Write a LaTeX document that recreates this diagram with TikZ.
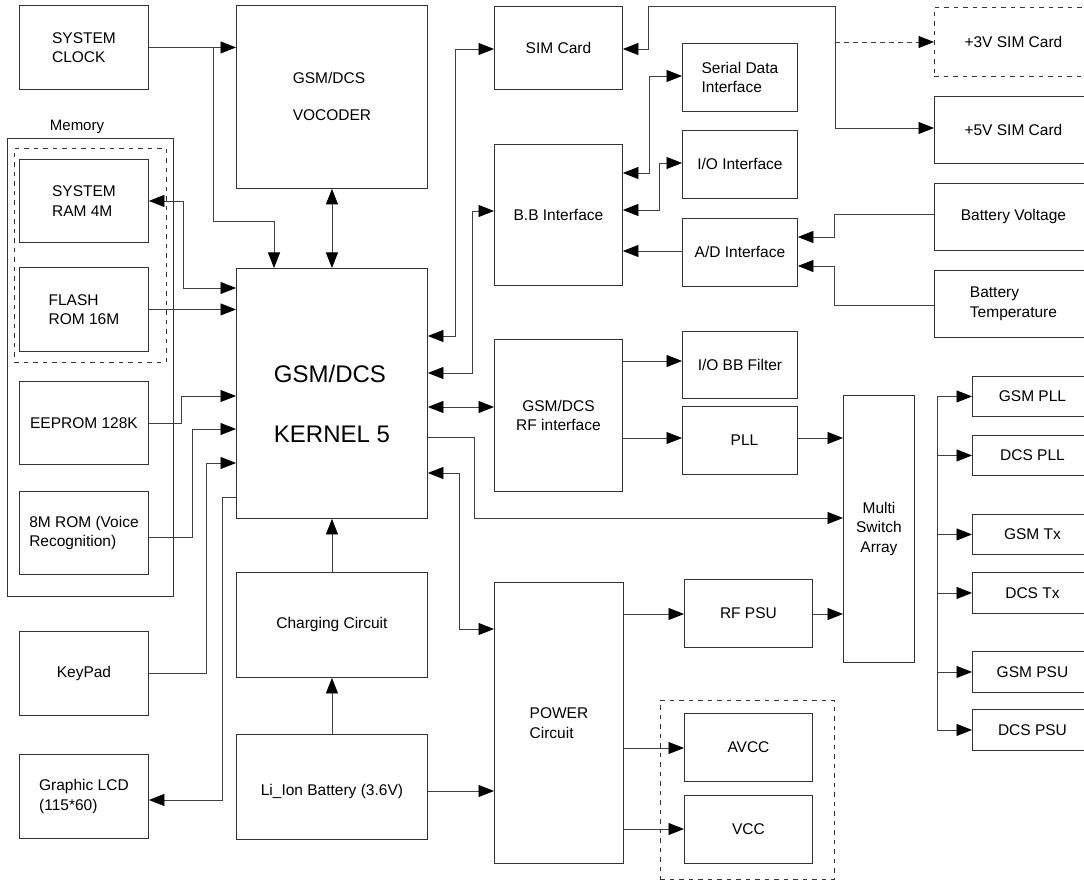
\documentclass[tikz,border=0pt]{standalone}
\usepackage{fontspec}
\setmainfont{Liberation Sans}
\usetikzlibrary{arrows.meta}
\begin{document}
\begin{tikzpicture}[x=1pt,y=-1pt,
  >={Triangle[length=15.5pt,width=12pt,color=black]},
  box/.style={draw=black!80, line width=0.9pt, rectangle, anchor=north west, inner sep=0pt, align=left,
              font=\fontsize{15.5}{19.5}\selectfont},
  bx/.style 2 args={box, minimum width=#1, minimum height=#2},
  dbx/.style 2 args={box, dash pattern=on 4.5pt off 5pt, minimum width=#1, minimum height=#2},
  conn/.style={draw=black!75, line width=0.8pt},
]
\fill[white] (0,0) rectangle (1084,882);
\useasboundingbox (0,0) rectangle (1084,882);

% ---------- left column ----------
\node[bx={129pt}{84pt}] (clock) at (19,5) {SYSTEM\\CLOCK};
\node[font=\fontsize{15}{18}\selectfont] (memlabel) at (77,127) {Memory};
\node[bx={166pt}{458pt}] (memout) at (7,138) {};
\node[dbx={152pt}{214pt}] (memdash) at (14,148) {};
\node[bx={129pt}{83pt}] (ram) at (19,159) {SYSTEM\\RAM 4M};
\node[bx={129pt}{84pt}] (flash) at (19,267) {FLASH\\ROM 16M};
\node[bx={129pt}{83pt}] (eeprom) at (19,381) {EEPROM 128K};
\node[bx={129pt}{83pt}] (rom8) at (19,491) {8M ROM (Voice\\Recognition)};
\node[bx={129pt}{84pt}] (keypad) at (19,631) {KeyPad};
\node[bx={129pt}{84pt}] (lcd) at (19,754) {Graphic LCD\\(115*60)};

% ---------- centre column ----------
\node[bx={191pt}{183pt}] (vocoder) at (236,5) {GSM/DCS\\[17.5pt]VOCODER};
\node[bx={191pt}{250pt}, font=\fontsize{24}{29}\selectfont] (kernel) at (236,268)
  {\rule{0pt}{38pt}GSM/DCS\\[31pt]KERNEL 5};
\node[bx={191pt}{105pt}] (charging) at (236,572) {Charging Circuit};
\node[bx={191pt}{105pt}] (battery) at (236,734) {\rule{0pt}{21pt}Li\_Ion Battery (3.6V)};

% ---------- interfaces ----------
\node[bx={128pt}{83pt}] (sim) at (494,6) {SIM Card};
\node[bx={128pt}{141pt}] (bb) at (494,144) {B.B Interface};
\node[bx={128pt}{152pt}, align=center] (rf) at (494,339) {GSM/DCS\\RF interface};
\node[bx={129pt}{281pt}] (power) at (494,582) {POWER\\Circuit\hspace*{10pt}};

\node[bx={115pt}{68pt}] (serial) at (682,43) {Serial Data\\Interface};
\node[bx={115pt}{68pt}] (io) at (682,130) {I/O Interface};
\node[bx={115pt}{68pt}] (ad) at (682,218) {A/D Interface};
\node[bx={115pt}{67pt}] (iobb) at (682,331) {I/O BB Filter};
\node[bx={115pt}{68pt}] (pll) at (682,406) {\hspace*{9pt}PLL};
\node[bx={128pt}{68pt}] (rfpsu) at (684,579) {RF PSU};
\node[dbx={174pt}{179pt}] (pwrgrp) at (660,700) {};
\node[bx={128pt}{68pt}] (avcc) at (684,713) {AVCC};
\node[bx={128pt}{68pt}] (vcc) at (684,795) {VCC};

\node[bx={71pt}{267pt}, align=center] (ms) at (843,395) {Multi\\Switch\\Array};

% ---------- right column ----------
\node[dbx={158pt}{69pt}] (sim3) at (934,7) {+3V SIM Card};
\node[bx={158pt}{67pt}] (sim5) at (934,96) {+5V SIM Card};
\node[bx={158pt}{67pt}] (bvolt) at (934,183) {Battery Voltage};
\node[bx={158pt}{67pt}] (btemp) at (934,270) {Battery\\Temperature};

\node[bx={120pt}{40pt}] (gsmpll) at (972,376) {GSM PLL};
\node[bx={120pt}{40pt}] (dcspll) at (972,435) {DCS PLL};
\node[bx={120pt}{40pt}] (gsmtx) at (972,514) {GSM Tx};
\node[bx={120pt}{41pt}] (dcstx) at (972,572) {DCS Tx};
\node[bx={120pt}{41pt}] (gsmpsu) at (972,651) {GSM PSU};
\node[bx={120pt}{41pt}] (dcspsu) at (972,709) {DCS PSU};

% ---------- connectors: left side ----------
\draw[conn,->] (clock.east) -- (clock.east -| vocoder.west);
\draw[conn,->] (213,47) -- (213,221) -| (kernel.north -| 274,0);
\draw[conn,<->] (vocoder.south) -- (kernel.north);
\draw[conn,<->] (ram.east) -| (183,288) -- (kernel.west |- 0,288);
\draw[conn,->] (flash.east) -- (flash.east -| kernel.west);
\draw[conn,->] (eeprom.east) -| (181,396) -- (kernel.west |- 0,396);
\draw[conn,->] (rom8.east |- 0,537) -- (192,537) |- (kernel.west |- 0,429);
\draw[conn,->] (keypad.east) -| (206,463) -- (kernel.west |- 0,463);
\draw[conn,->] (kernel.west |- 0,497) -- (222,497) |- (lcd.east |- 0,800);
\draw[conn,->] (charging.north) -- (kernel.south);
\draw[conn,->] (battery.north) -- (charging.south);
\draw[conn,->] (battery.east |- 0,791) -- (power.west |- 0,791);

% ---------- connectors: kernel right side ----------
\draw[conn,<->] (kernel.east |- 0,336) -- (455,336) |- (sim.west |- 0,49);
\draw[conn,<->] (kernel.east |- 0,373) -- (472,373) |- (bb.west |- 0,211);
\draw[conn,<->] (kernel.east |- 0,407) -- (rf.west |- 0,407);
\draw[conn,->] (kernel.east |- 0,437) -- (474,437) |- (ms.west |- 0,518);
\draw[conn,<->] (kernel.east |- 0,473) -- (459,473) |- (power.west |- 0,629);

% ---------- connectors: SIM / BB ----------
\draw[conn,<->] (sim.east |- 0,49) -- (648,49) |- (835,6) -- (835,128) -- (sim5.west |- 0,128);
\coordinate (simbr) at (835,42);
\draw[conn,->,dash pattern=on 4.5pt off 4.5pt] (simbr) -- (sim3.west |- simbr);
\draw[conn,<->] (bb.east |- 0,173) -- (649,173) |- (serial.west |- 0,76);
\draw[conn,<->] (bb.east |- 0,210) -- (659,210) |- (io.west |- 0,163);
\draw[conn,->] (ad.west |- 0,251) -- (bb.east |- 0,251);
\draw[conn,->] (bvolt.west |- 0,214) -- (834,214) |- (ad.east |- 0,237);
\draw[conn,->] (btemp.west |- 0,305) -- (834,305) |- (ad.east |- 0,266);

% ---------- connectors: RF / power ----------
\draw[conn,->] (rf.east |- 0,361) -- (iobb.west |- 0,361);
\draw[conn,->] (rf.east |- 0,438) -- (pll.west |- 0,438);
\draw[conn,->] (pll.east |- 0,438) -- (ms.west |- 0,438);
\draw[conn,->] (power.east |- 0,614) -- (rfpsu.west |- 0,614);
\draw[conn,->] (rfpsu.east |- 0,614) -- (ms.west |- 0,614);
\draw[conn,->] (power.east |- 0,748) -- (avcc.west |- 0,748);
\draw[conn,->] (power.east |- 0,829) -- (vcc.west |- 0,829);

% ---------- distribution trunk ----------
\coordinate (trtop) at (937,396);
\coordinate (trbot) at (937,729.5);
\draw[conn] (trtop) -- (trbot);
\foreach \n in {gsmpll,dcspll,gsmtx,dcstx,gsmpsu,dcspsu}
  \draw[conn,->] (trtop |- \n.west) -- (\n.west);
\end{tikzpicture}
\end{document}
